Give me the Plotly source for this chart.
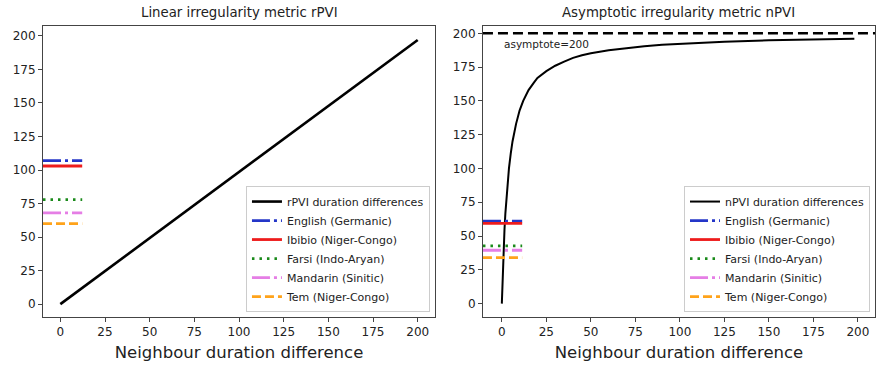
import plotly.graph_objects as go

# ---------------- data ----------------
languages = ["English (Germanic)", "Ibibio (Niger-Congo)", "Farsi (Indo-Aryan)",
             "Mandarin (Sinitic)", "Tem (Niger-Congo)"]
rpvi_values = [107, 103, 78, 68, 60]
npvi_values = [61, 59.3, 42.7, 39.5, 34]

rpvi_x = [0, 200]
rpvi_y = [0, 197]

npvi_x = [0, 0.5, 1, 1.5, 2, 3, 4, 5, 6, 8, 10, 12, 15, 18, 20, 25, 30, 35, 40, 45, 50,
          60, 70, 80, 90, 100, 125, 150, 175, 198]
npvi_y = [0, 22, 40, 55, 67, 86, 100, 111, 120, 133, 143, 150, 158, 163.5, 167, 172, 176,
          179, 181.8, 183.7, 185.2, 187.5, 189.2, 190.5, 191.5, 192.3, 193.8, 194.8, 195.5, 196]

asymptote = 200
tick_vals = [0, 25, 50, 75, 100, 125, 150, 175, 200]

# ---------------- styles ----------------
lang_colors = ["#2436c8", "#ee1c1c", "#1a8a1a", "#e57ee5", "#ffa31a"]
lang_dash = ["18px,4px,3px,4px", "solid", "2.5px,5px", "18px,4px,3px,4px", "9px,4px"]
FONT = "DejaVu Sans"

xr_left = [-9.7, 209.7]
xr_right = [-10.6, 209.6]
yr_left = [-9.6, 207.4]
yr_right = [-9.9, 205.4]

fig = go.Figure()

def short_x(xr):
    return [xr[0], xr[0] + 0.1 * (xr[1] - xr[0])]

# left panel
fig.add_trace(go.Scatter(x=rpvi_x, y=rpvi_y, mode="lines", name="rPVI duration differences",
                         line=dict(color="black", width=2.6), xaxis="x", yaxis="y", legend="legend"))
for name, v, c, d in zip(languages, rpvi_values, lang_colors, lang_dash):
    fig.add_trace(go.Scatter(x=short_x(xr_left), y=[v, v], mode="lines", name=name,
                             line=dict(color=c, width=2.8, dash=d), xaxis="x", yaxis="y",
                             legend="legend"))

# right panel
fig.add_trace(go.Scatter(x=[xr_right[0], xr_right[1]], y=[asymptote, asymptote], mode="lines",
                         line=dict(color="black", width=2.4, dash="10px,5px"), showlegend=False,
                         xaxis="x2", yaxis="y2", hoverinfo="skip"))
fig.add_trace(go.Scatter(x=npvi_x, y=npvi_y, mode="lines", name="nPVI duration differences",
                         line=dict(color="black", width=2), xaxis="x2", yaxis="y2",
                         legend="legend2"))
for name, v, c, d in zip(languages, npvi_values, lang_colors, lang_dash):
    fig.add_trace(go.Scatter(x=short_x(xr_right), y=[v, v], mode="lines", name=name,
                             line=dict(color=c, width=2.8, dash=d), xaxis="x2", yaxis="y2",
                             legend="legend2"))

axis_common = dict(showgrid=False, zeroline=False, showline=True, mirror=True, linecolor="#444",
                   linewidth=1, ticks="outside", ticklen=4, tickcolor="#444",
                   tickfont=dict(family=FONT, size=12, color="#222"),
                   tickvals=tick_vals)

xtitle_font = dict(family=FONT, size=16.5, color="#222")
legend_font = dict(family=FONT, size=11, color="#222")

fig.update_layout(
    width=879, height=370,
    margin=dict(l=43, r=4, t=26, b=53),
    paper_bgcolor="white", plot_bgcolor="white",
    font=dict(family=FONT, color="#222"),
    xaxis=dict(domain=[0, 0.4712], range=xr_left,
               title=dict(text="Neighbour duration difference", font=xtitle_font, standoff=8),
               **axis_common),
    yaxis=dict(range=yr_left, anchor="x", **axis_common),
    xaxis2=dict(domain=[0.5288, 1], range=xr_right, anchor="y2",
                title=dict(text="Neighbour duration difference", font=xtitle_font, standoff=8),
                **axis_common),
    yaxis2=dict(range=yr_right, anchor="x2", **axis_common),
    legend=dict(x=0.4651, y=0.017, xanchor="right", yanchor="bottom",
                bgcolor="rgba(255,255,255,0.85)", bordercolor="#cccccc", borderwidth=1,
                font=legend_font, itemwidth=30, tracegroupgap=0),
    legend2=dict(x=0.994, y=0.017, xanchor="right", yanchor="bottom",
                 bgcolor="rgba(255,255,255,0.85)", bordercolor="#cccccc", borderwidth=1,
                 font=legend_font, itemwidth=30, tracegroupgap=0),
    annotations=[
        dict(text="Linear irregularity metric rPVI", xref="paper", yref="paper",
             x=0.4712 / 2, y=1, yshift=14, showarrow=False, xanchor="center", yanchor="middle",
             font=dict(family=FONT, size=13.3, color="#222")),
        dict(text="Asymptotic irregularity metric nPVI", xref="paper", yref="paper",
             x=(0.5288 + 1) / 2, y=1, yshift=14, showarrow=False, xanchor="center", yanchor="middle",
             font=dict(family=FONT, size=13.3, color="#222")),
        dict(text=f"asymptote={asymptote}", xref="x2", yref="y2", x=0, y=asymptote - 8,
             showarrow=False, xanchor="left", yanchor="middle",
             font=dict(family=FONT, size=10.5, color="#222")),
    ],
)

fig.write_html("out.html")
